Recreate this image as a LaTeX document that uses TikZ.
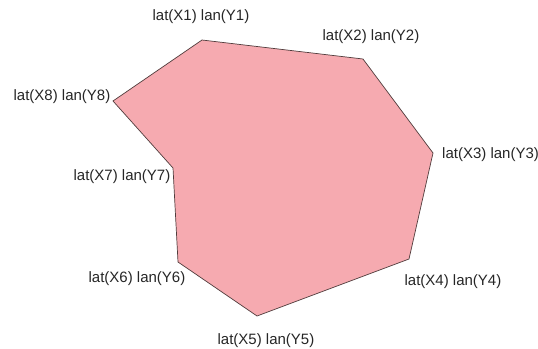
\documentclass[tikz,border=0pt]{standalone}
\usepackage{fontspec}
\setmainfont{Liberation Sans}
\usepackage{tikz}
\usetikzlibrary{calc,positioning}
\definecolor{zonefill}{RGB}{246,170,176}
\definecolor{zoneline}{RGB}{80,60,60}

\begin{document}
\begin{tikzpicture}[x=1pt,y=-1pt,font=\fontsize{15}{17}\selectfont,
  zone/.style={fill=zonefill,draw=zoneline,line width=0.7pt,line join=miter},
  lbl/.style={inner sep=0pt,text=black!85}]
\useasboundingbox (0,0) rectangle (538,348);
\foreach \i/\x/\y in {1/202/40,2/363/59,3/433/153,4/409/259,5/257/316,6/178/262,7/173/168,8/113/101} {\coordinate (v\i) at (\x,\y);}
\draw[zone] (v1)--(v2)--(v3)--(v4)--(v5)--(v6)--(v7)--(v8)--cycle;
\foreach \i/\x/\y in {1/201/17,2/371/37,4/453/282,5/266/341,6/137/279,7/122/177,8/62/97} {\node[lbl] (l\i) at (\x,\y) {lat(X\i) lan(Y\i)};}
\node[lbl,anchor=west] (l3) at (442,155) {lat(X3) lan(Y3)};
\end{tikzpicture}
\end{document}
